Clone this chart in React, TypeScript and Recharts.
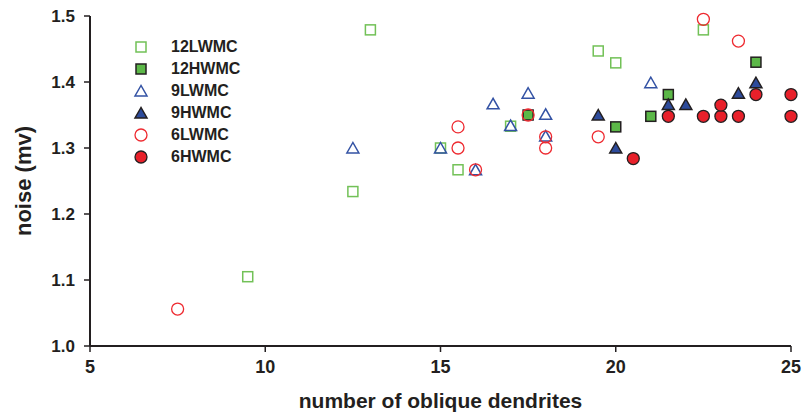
import React from 'react';
import { ScatterChart, Scatter, XAxis, YAxis } from 'recharts';

// values
const lw12X = [9.5, 12.5, 13, 15, 15.5, 17, 19.5, 20, 22.5];
const lw12Y = [1.105, 1.234, 1.479, 1.3, 1.267, 1.333, 1.447, 1.429, 1.479];
const hw12X = [17.5, 20, 21, 21.5, 24];
const hw12Y = [1.35, 1.332, 1.348, 1.381, 1.43];
const lw9X = [12.5, 15, 16, 16.5, 17, 17.5, 18, 18, 21];
const lw9Y = [1.3, 1.3, 1.267, 1.367, 1.334, 1.383, 1.351, 1.318, 1.399];
const hw9X = [19.5, 20, 21.5, 22, 23.5, 24];
const hw9Y = [1.35, 1.3, 1.366, 1.366, 1.383, 1.399];
const lw6X = [7.5, 15.5, 15.5, 16, 17.5, 18, 18, 19.5, 22.5, 23.5];
const lw6Y = [1.056, 1.332, 1.3, 1.267, 1.35, 1.317, 1.3, 1.317, 1.495, 1.462];
const hw6X = [20.5, 21.5, 22.5, 23, 23, 23.5, 24, 25, 25];
const hw6Y = [1.284, 1.348, 1.348, 1.348, 1.365, 1.348, 1.381, 1.381, 1.348];

const xTicks = [5, 10, 15, 20, 25];
const yTicks = [1.0, 1.1, 1.2, 1.3, 1.4, 1.5];

const FONT = "'Liberation Sans', Arial, sans-serif";
const INK = '#231f20';

const zip = (xs: number[], ys: number[]) => xs.map((x, i) => ({ x, y: ys[i] }));

type Kind = 'square' | 'triangle' | 'circle';

const Marker = ({ kind, cx, cy, fill, stroke }: { kind: Kind; cx: number; cy: number; fill: string; stroke: string }) => {
  if (kind === 'square') {
    return <rect x={cx - 5} y={cy - 5} width={10} height={10} fill={fill} stroke={stroke} strokeWidth={1.5} />;
  }
  if (kind === 'triangle') {
    return (
      <polygon
        points={`${cx},${cy - 5.5} ${cx - 6},${cy + 5} ${cx + 6},${cy + 5}`}
        fill={fill}
        stroke={stroke}
        strokeWidth={1.5}
        strokeLinejoin="miter"
      />
    );
  }
  return <circle cx={cx} cy={cy} r={6} fill={fill} stroke={stroke} strokeWidth={1.3} />;
};

const series = [
  { name: '12LWMC', data: zip(lw12X, lw12Y), kind: 'square' as Kind, fill: '#ffffff', stroke: '#72c157' },
  { name: '12HWMC', data: zip(hw12X, hw12Y), kind: 'square' as Kind, fill: '#5cb848', stroke: INK },
  { name: '9LWMC', data: zip(lw9X, lw9Y), kind: 'triangle' as Kind, fill: 'none', stroke: '#3352a4' },
  { name: '9HWMC', data: zip(hw9X, hw9Y), kind: 'triangle' as Kind, fill: '#2d4b9b', stroke: INK },
  { name: '6LWMC', data: zip(lw6X, lw6Y), kind: 'circle' as Kind, fill: 'none', stroke: '#ee2a30' },
  { name: '6HWMC', data: zip(hw6X, hw6Y), kind: 'circle' as Kind, fill: '#e8202a', stroke: INK },
];

const YTitle = (props: any) => {
  const vb = props.viewBox || { x: 0, y: 0, width: 0, height: 0 };
  const x = vb.x + 31;
  const y = vb.y + vb.height / 2;
  return (
    <text x={x} y={y} transform={`rotate(-90, ${x}, ${y})`} textAnchor="middle" fill={INK}
      style={{ fontFamily: FONT, fontWeight: 700, fontSize: 22 }}>
      noise (mv)
    </text>
  );
};

export default function App() {
  return (
    <div style={{ position: 'absolute', left: 0, top: 0, width: 803, height: 412, background: '#fff' }}>
      <ScatterChart width={803} height={412} margin={{ top: 16, right: 12, bottom: 0, left: 0 }}>
        <XAxis
          type="number"
          dataKey="x"
          domain={[5, 25]}
          ticks={xTicks}
          height={66}
          tickSize={6}
          tickMargin={8}
          axisLine={{ stroke: INK, strokeWidth: 2 }}
          tickLine={{ stroke: INK, strokeWidth: 1.5 }}
          tick={{ fill: INK, fontFamily: FONT, fontWeight: 700, fontSize: 18 }}
          label={{
            value: 'number of oblique dendrites',
            position: 'insideBottom',
            offset: 4,
            fill: INK,
            style: { fontFamily: FONT, fontWeight: 700, fontSize: 21 },
          }}
        />
        <YAxis
          type="number"
          dataKey="y"
          domain={[1, 1.5]}
          ticks={yTicks}
          width={90}
          tickSize={6}
          tickMargin={9}
          tickFormatter={(v: number) => v.toFixed(1)}
          axisLine={{ stroke: INK, strokeWidth: 2 }}
          tickLine={{ stroke: INK, strokeWidth: 1.5 }}
          tick={{ fill: INK, fontFamily: FONT, fontWeight: 700, fontSize: 17 }}
          label={{ content: YTitle }}
        />
        {series.map((s) => (
          <Scatter
            key={s.name}
            name={s.name}
            data={s.data}
            isAnimationActive={false}
            shape={(p: any) => <Marker kind={s.kind} cx={p.cx} cy={p.cy} fill={s.fill} stroke={s.stroke} />}
          />
        ))}
      </ScatterChart>
      <div style={{ position: 'absolute', left: 133, top: 36, fontFamily: FONT, fontWeight: 700, fontSize: 16, color: INK }}>
        {series.map((s) => (
          <div key={s.name} style={{ display: 'flex', alignItems: 'center', height: 22 }}>
            <svg width={16} height={16} style={{ marginRight: 22 }}>
              <Marker kind={s.kind} cx={8} cy={8} fill={s.fill === 'none' ? '#fff' : s.fill} stroke={s.stroke} />
            </svg>
            <span>{s.name}</span>
          </div>
        ))}
      </div>
    </div>
  );
}
